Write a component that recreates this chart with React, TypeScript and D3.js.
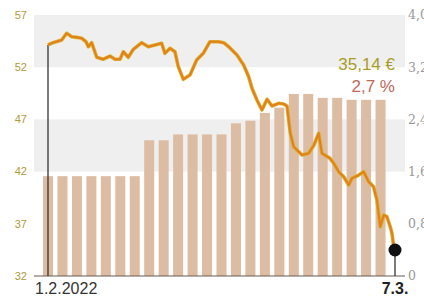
import React from "react";
import * as d3 from "d3";

const W = 424;
const H = 297;

// left axis (share price, €)
const priceTicks = [32, 37, 42, 47, 52, 57];
// right axis (dividend yield, %)
const yieldTicks = [0, 0.8, 1.6, 2.4, 3.2, 4.0];
const dayCount = 25; // trading days 1.2.2022 .. 7.3.2022
const xLabels = ["1.2.2022", "7.3."];

// daily dividend-yield bars (%)
const yieldValues = [
  1.53, 1.53, 1.53, 1.53, 1.53, 1.53, 1.53,
  2.08, 2.08, 2.17, 2.17, 2.17, 2.17,
  2.34, 2.38, 2.5, 2.58,
  2.79, 2.79, 2.73, 2.73, 2.7, 2.7, 2.7,
];

// share price line: position in trading days and price (€)
const priceDays = [
  0, 0.35, 0.95, 1.29, 1.64, 1.98, 2.33, 2.63, 2.79, 3.02, 3.37, 3.8, 4.29, 4.63,
  4.98, 5.21, 5.55, 5.9, 6.48, 6.94, 7.4, 7.86, 8.09, 8.44, 8.78, 9.01, 9.36,
  9.82, 10.28, 10.74, 11.2, 11.8, 12.15, 12.5, 13.07, 13.53, 13.88, 14.11, 14.45,
  14.8, 15.15, 15.49, 15.95, 16.3, 16.53, 16.76, 16.99, 17.22, 17.57, 18.03,
  18.4, 18.72, 18.95, 19.5, 19.76, 20.1, 20.45, 20.8, 21.02, 21.49, 21.83,
  22.18, 22.52, 22.75, 22.98, 23.22, 23.44, 23.67, 23.79, 23.91, 24,
];
const priceValues = [
  54.13, 54.35, 54.61, 55.25, 54.92, 54.86, 54.77, 54.44, 53.96, 54.35, 52.95,
  52.76, 53.07, 52.76, 52.76, 53.48, 52.95, 53.71, 54.35, 53.96, 54.13, 54.29,
  53.33, 53.81, 53.48, 52.05, 50.84, 51.25, 52.69, 53.33, 54.44, 54.44, 54.35,
  53.96, 53.17, 52.21, 51.09, 49.98, 48.86, 47.9, 48.93, 48.28, 48.54, 48.48,
  48.28, 45.67, 44.39, 44.07, 43.59, 43.75, 44.55, 45.67, 43.75, 43.27, 42.8,
  41.99, 41.51, 40.72, 41.36, 41.67, 41.99, 41.03, 40.55, 39.28, 36.72, 37.84,
  37.68, 36.72, 36.09, 34.81, 34.49,
];
const priceLabel = "35,14 €";
const yieldLabel = "2,7 %";

export default function App() {
  const plotLeft = 34;
  const plotRight = 405;
  const yTop = 15;
  const yBottom = 276;

  const x = d3.scaleLinear().domain([0, dayCount - 1]).range([48, 395]);
  const yP = d3.scaleLinear().domain([32, 57]).range([yBottom, yTop]);
  const yY = d3.scaleLinear().domain([0, 4]).range([yBottom, yTop]);
  const barW = 10;

  const pts: [number, number][] = priceDays.map((d, i) => [d, priceValues[i]]);
  const line = d3
    .line<[number, number]>()
    .x((d) => x(d[0]))
    .y((d) => yP(d[1]))
    .curve(d3.curveLinear);
  const path = line(pts) || "";

  const bands = [
    [57, 52],
    [47, 42],
  ];

  const first = pts[0];
  const last = pts[pts.length - 1];
  const fmt = (v: number) => (v === 0 ? "0" : d3.format(".1f")(v).replace(".", ","));

  return (
    <svg
      width={W}
      height={H}
      style={{ position: "absolute", left: 0, top: 0, background: "#fff" }}
    >
      {bands.map(([a, b], i) => (
        <rect
          key={i}
          x={plotLeft}
          y={yP(a)}
          width={plotRight - plotLeft}
          height={yP(b) - yP(a)}
          fill="#efefef"
        />
      ))}
      {yieldValues.map((v, i) => (
        <rect
          key={i}
          x={x(i) - barW / 2}
          y={yY(v)}
          width={barW}
          height={yBottom - yY(v)}
          fill="#dcbca3"
        />
      ))}
      <line x1={plotLeft} x2={plotRight} y1={yBottom} y2={yBottom} stroke="#6a5a50" strokeWidth={1.2} />
      <line x1={x(first[0])} x2={x(first[0])} y1={yP(first[1])} y2={yBottom} stroke="#333" strokeWidth={1.3} />
      <line x1={x(last[0])} x2={x(last[0])} y1={yP(last[1])} y2={yBottom} stroke="#333" strokeWidth={1.3} />
      <path d={path} fill="none" stroke="#d9b02c" strokeWidth={3.6} strokeLinejoin="round" />
      <path d={path} fill="none" stroke="#e4801c" strokeWidth={2} strokeLinejoin="round" />
      <circle cx={x(last[0])} cy={yP(last[1])} r={6.5} fill="#111" />

      {priceTicks.map((t) => (
        <text
          key={t}
          x={27}
          y={yP(t)}
          dy="0.35em"
          textAnchor="end"
          fontFamily="Liberation Sans, Arial, sans-serif"
          fontSize={11}
          fill="#b09a3a"
        >
          {t}
        </text>
      ))}
      {yieldTicks.map((t) => (
        <text
          key={t}
          x={408}
          y={yY(t)}
          dy="0.35em"
          textAnchor="start"
          fontFamily="DejaVu Serif, Georgia, serif"
          fontSize={12.5}
          fill="#999"
        >
          {fmt(t)}
        </text>
      ))}
      <text
        x={395}
        y={70}
        textAnchor="end"
        fontFamily="Liberation Sans, Arial, sans-serif"
        fontSize={17}
        fill="#a89c24"
      >
        {priceLabel}
      </text>
      <text
        x={395}
        y={92}
        textAnchor="end"
        fontFamily="Liberation Sans, Arial, sans-serif"
        fontSize={17}
        fill="#c2685a"
      >
        {yieldLabel}
      </text>
      <text
        x={x(0) - 13}
        y={294}
        textAnchor="start"
        fontFamily="Liberation Sans, Arial, sans-serif"
        fontSize={16}
        fill="#333"
      >
        {xLabels[0]}
      </text>
      <text
        x={x(dayCount - 1)}
        y={294}
        textAnchor="middle"
        fontFamily="Liberation Sans, Arial, sans-serif"
        fontSize={16}
        fontWeight="bold"
        fill="#222"
      >
        {xLabels[1]}
      </text>
    </svg>
  );
}
